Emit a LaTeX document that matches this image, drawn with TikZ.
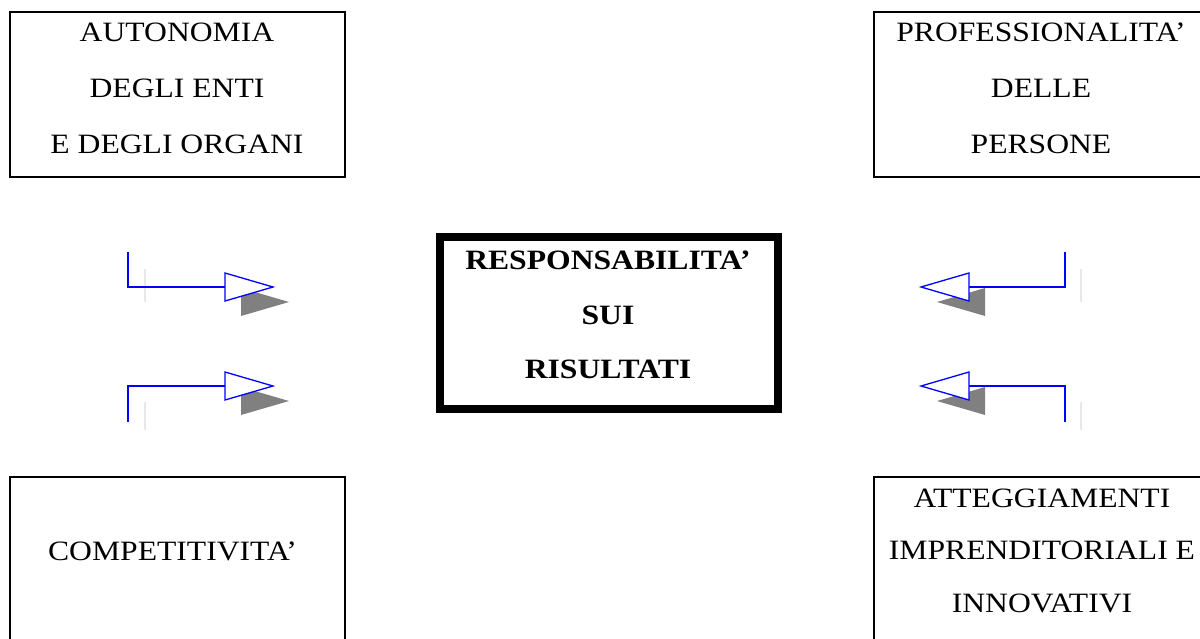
\documentclass[tikz,border=0pt]{standalone}
\usepackage{fontspec}
\setmainfont[FakeStretch=1.13]{Liberation Serif}
\usepackage{tikz}

\tikzset{
  framebox/.style={draw=black,line width=2pt,rectangle,inner sep=0pt,minimum width=335pt,minimum height=165pt},
  mainbox/.style={draw=black,line width=8pt,rectangle,inner sep=0pt,minimum width=338pt,minimum height=172pt},
  boxtext/.style={anchor=north,inner sep=0pt,align=center},
  bluearrow/.style={draw=blue,line width=1.3pt},
  shadowgray/.style={fill=black!50},
  faintline/.style={draw=black!9,line width=1.3pt}
}

\begin{document}
\begin{tikzpicture}[x=1pt,y=-1pt]
\clip (0,0) rectangle (1200,639);

\node (autbox) [framebox] at (177.5,94.5) {};
\node (probox) [framebox] at (1041,94.5) {};
\node (compbox) [framebox] at (177.5,559.5) {};
\node (attbox) [framebox] at (1041,559.5) {};
\node (respbox) [mainbox] at (609,323) {};

\node (autlabel) [boxtext,font={\fontsize{28pt}{56pt}\selectfont}] at (177,22.3) {AUTONOMIA\\DEGLI ENTI\\E DEGLI ORGANI};
\node (prolabel) [boxtext,font={\fontsize{28pt}{56pt}\selectfont}] at (1041,22.3) {PROFESSIONALITA’\\DELLE\\PERSONE};
\node (resplabel) [boxtext,font={\fontsize{28pt}{54.5pt}\selectfont\bfseries}] at (608,251) {RESPONSABILITA’\\SUI\\RISULTATI};
\node (complabel) [boxtext,font={\fontsize{28pt}{56pt}\selectfont}] at (172.5,541.5) {COMPETITIVITA’};
\node (attlabel) [boxtext,font={\fontsize{28pt}{52.5pt}\selectfont}] at (1042,488.5) {ATTEGGIAMENTI\\IMPRENDITORIALI E\\INNOVATIVI};

% elbow arrows with shadow
\foreach \xv/\yv/\yh/\xb/\xt/\xg/\ga/\gb in {
  128/252/287/225/273/145/269/302,
  128/422/386/225/273/145/402/430,
  1065/252/287/969/921/1081/269/302,
  1065/422/386/969/921/1081/402/430}{
  \draw[faintline] (\xg,\ga) -- (\xg,\gb);
  \fill[shadowgray] (\xb+16,\yh+1) -- (\xb+16,\yh+29) -- (\xt+16,\yh+15) -- cycle;
  \draw[bluearrow] (\xv,\yv) |- (\xb,\yh);
  \draw[bluearrow,fill=white] (\xb,\yh-14) -- (\xb,\yh+14) -- (\xt,\yh) -- cycle;
}
\end{tikzpicture}
\end{document}
